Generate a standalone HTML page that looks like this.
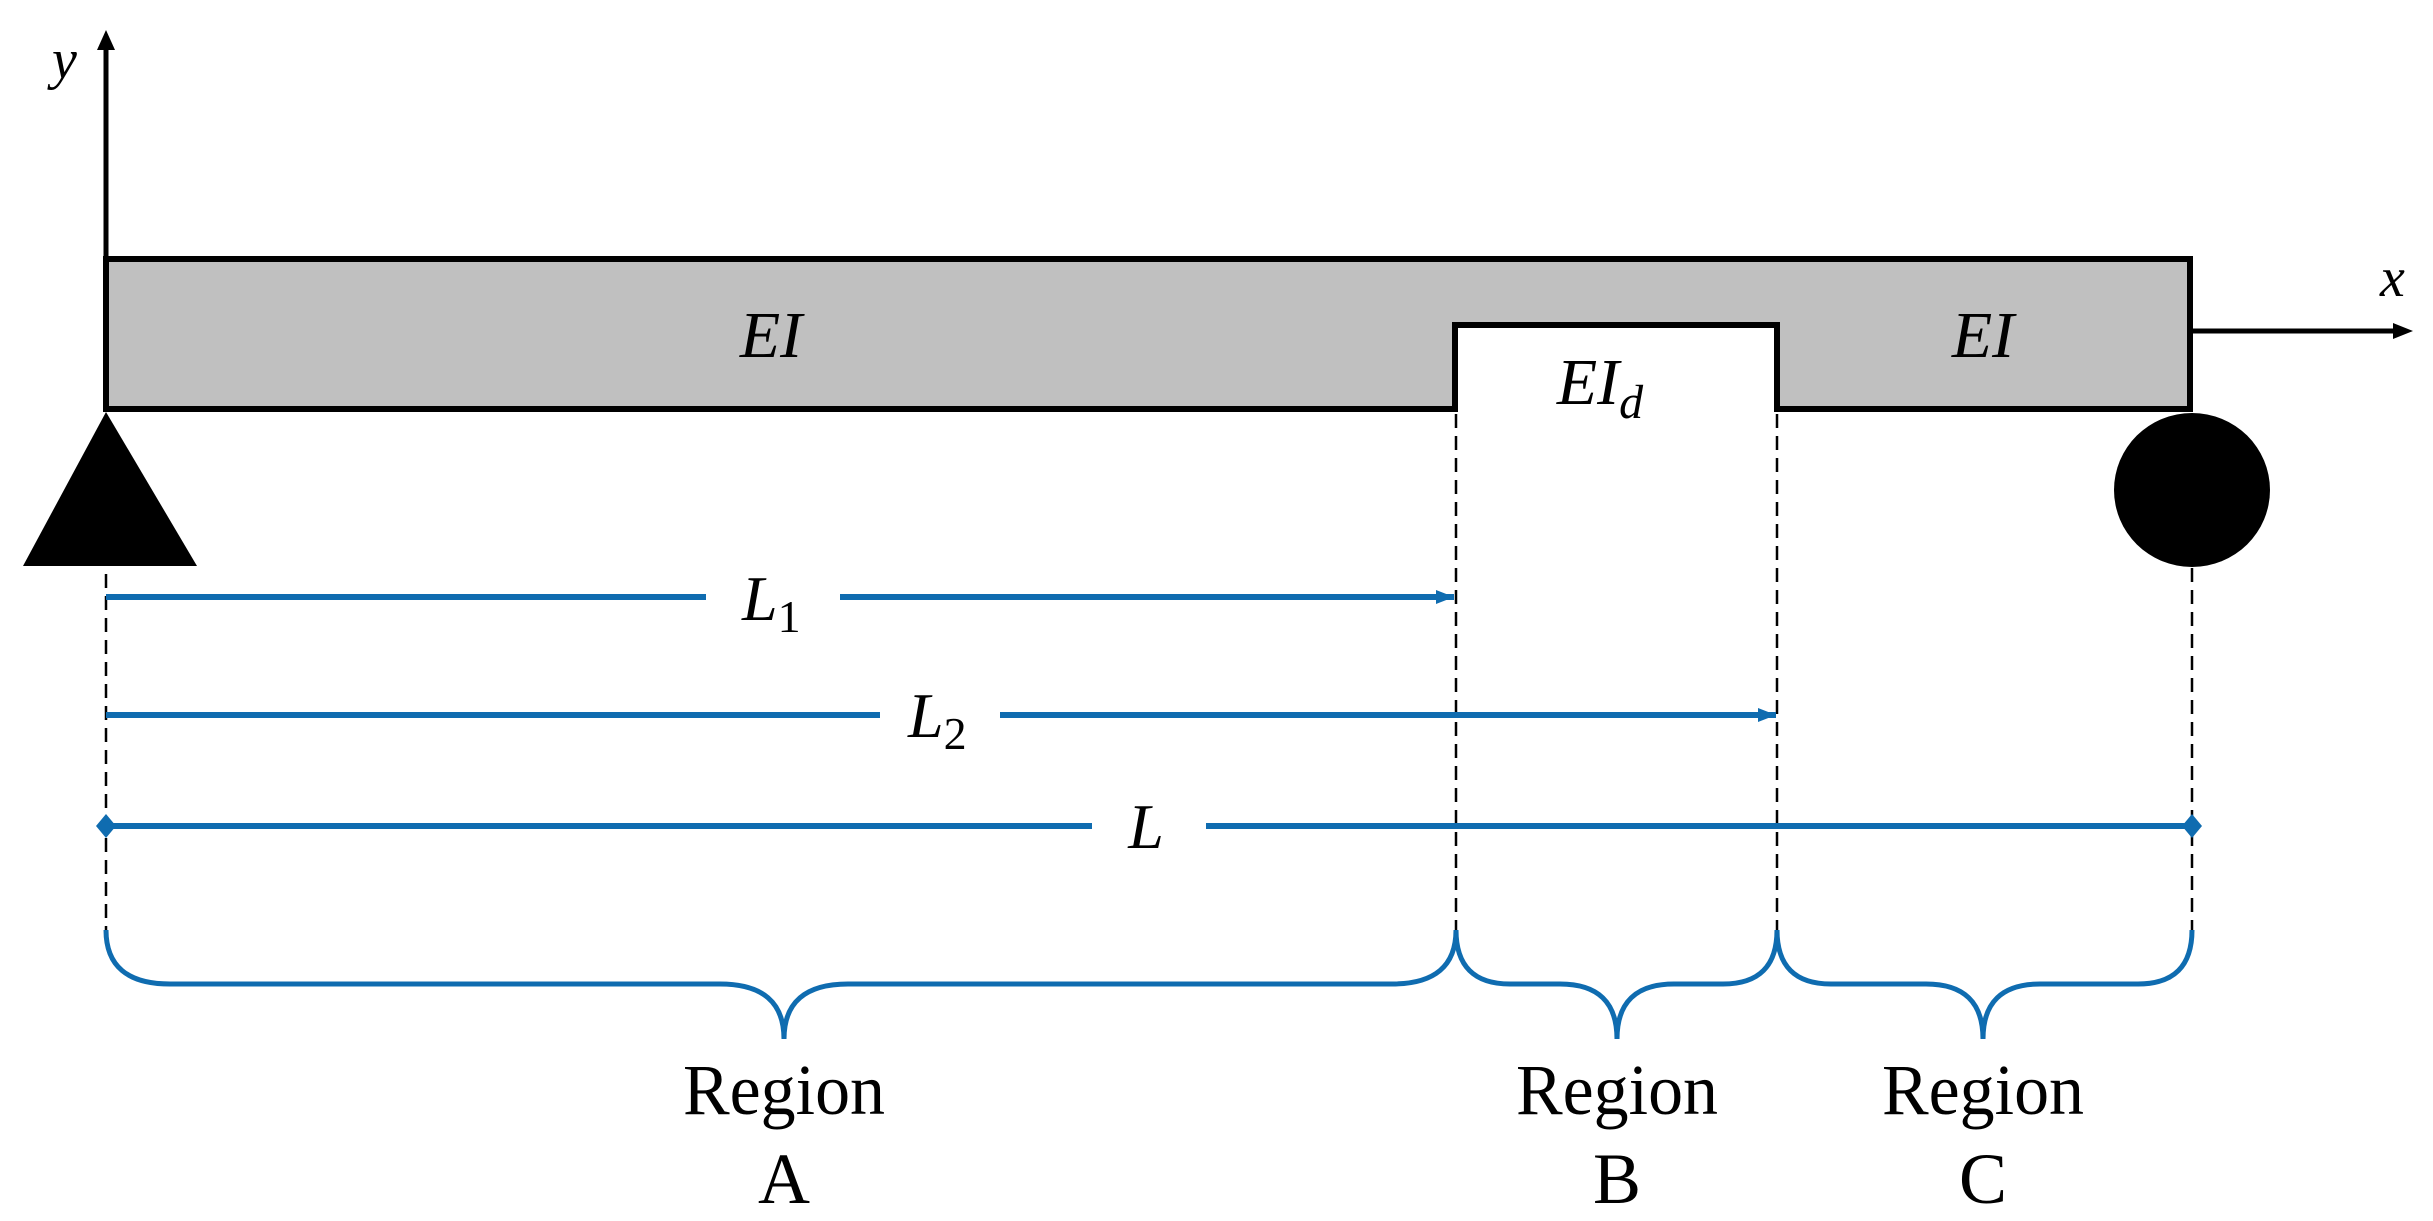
<!DOCTYPE html>
<html><head><meta charset="utf-8"><style>
html,body{margin:0;padding:0;background:#fff;}
svg{display:block;}
</style></head><body>
<svg width="2433" height="1221" viewBox="0 0 2433 1221" xmlns="http://www.w3.org/2000/svg">
<defs>
<marker id="ablue" markerWidth="18" markerHeight="14" refX="18" refY="7" orient="auto" markerUnits="userSpaceOnUse">
<path d="M0,0 L18,7 L0,14 Z" fill="#0f6cb0"/></marker>
</defs>
<path d="M106,259 L2190,259 L2190,409 L1777,409 L1777,325 L1455,325 L1455,409 L106,409 Z" fill="#c0c0c0" stroke="#000" stroke-width="6"/>
<line x1="106" y1="409" x2="106" y2="48" stroke="#000" stroke-width="5"/>
<path d="M97,50 L106,30 L115,50 Z" fill="#000"/>
<text x="52" y="78" font-family="Liberation Serif, serif" font-style="italic" font-size="56">y</text>
<line x1="2190" y1="331" x2="2395" y2="331" stroke="#000" stroke-width="5"/>
<path d="M2393,323 L2413,331 L2393,339 Z" fill="#000"/>
<text x="2380" y="296" font-family="Liberation Serif, serif" font-style="italic" font-size="56">x</text>
<path d="M106,412 L197,566 L23,566 Z" fill="#000"/>
<ellipse cx="2192" cy="490" rx="78" ry="77" fill="#000"/>
<text x="771" y="357" text-anchor="middle" font-family="Liberation Serif, serif" font-style="italic" font-size="66">EI</text>
<text x="1983" y="357" text-anchor="middle" font-family="Liberation Serif, serif" font-style="italic" font-size="66">EI</text>
<text x="1600" y="404" text-anchor="middle" font-family="Liberation Serif, serif" font-style="italic" font-size="66">EI<tspan font-size="48" dy="14">d</tspan></text>
<g stroke="#000" stroke-width="2.5" stroke-dasharray="14,8">
<line x1="106" y1="574" x2="106" y2="935"/>
<line x1="1456" y1="414" x2="1456" y2="935"/>
<line x1="1777" y1="414" x2="1777" y2="935"/>
<line x1="2192" y1="568" x2="2192" y2="935"/>
</g>
<g stroke="#0f6cb0" stroke-width="6" fill="none">
<line x1="106" y1="597" x2="706" y2="597"/>
<line x1="840" y1="597" x2="1454" y2="597" marker-end="url(#ablue)"/>
<line x1="106" y1="715" x2="880" y2="715"/>
<line x1="1000" y1="715" x2="1776" y2="715" marker-end="url(#ablue)"/>
<line x1="106" y1="826" x2="1092" y2="826"/>
<line x1="1206" y1="826" x2="2192" y2="826"/>
</g>
<path d="M106,814 L116,826 L106,838 L96,826 Z" fill="#0f6cb0"/>
<path d="M2192,814 L2202,826 L2192,838 L2182,826 Z" fill="#0f6cb0"/>
<g font-family="Liberation Serif, serif" font-style="italic" font-size="64">
<text x="742" y="620">L<tspan font-size="46" font-style="normal" dy="12">1</tspan></text>
<text x="908" y="737">L<tspan font-size="46" font-style="normal" dy="12">2</tspan></text>
<text x="1146" y="848" text-anchor="middle">L</text>
</g>
<g stroke="#0f6cb0" stroke-width="5" fill="none">
<path d="M106,930 Q106,984 170,984 L720,984 Q784,984 784,1039 Q784,984 848,984 L1392,984 Q1456,984 1456,930"/>
<path d="M1456,930 Q1456,984 1510,984 L1560,984 Q1617,984 1617,1039 Q1617,984 1674,984 L1723,984 Q1777,984 1777,930"/>
<path d="M1777,930 Q1777,984 1831,984 L1926,984 Q1983,984 1983,1039 Q1983,984 2040,984 L2138,984 Q2192,984 2192,930"/>
</g>
<g font-family="Liberation Serif, serif" font-size="72" text-anchor="middle">
<text x="784" y="1114" textLength="202" lengthAdjust="spacingAndGlyphs">Region</text>
<text x="784" y="1203">A</text>
<text x="1617" y="1114" textLength="202" lengthAdjust="spacingAndGlyphs">Region</text>
<text x="1617" y="1203">B</text>
<text x="1983" y="1114" textLength="202" lengthAdjust="spacingAndGlyphs">Region</text>
<text x="1983" y="1203">C</text>
</g>
</svg>
</body></html>
